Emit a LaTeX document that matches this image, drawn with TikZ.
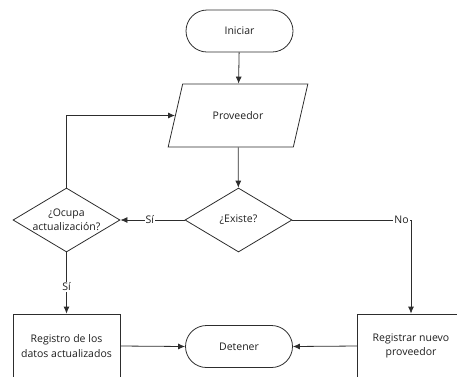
\documentclass[tikz,border=0pt]{standalone}
\usepackage{fontspec}
\setmainfont{Open Sans}
\usetikzlibrary{shapes.geometric, arrows.meta}
\definecolor{linegray}{RGB}{45,45,45}
\definecolor{textgray}{RGB}{30,30,30}
\tikzset{
    terminal/.style={
        draw=linegray, line width=0.8pt, rounded corners=21pt,
        minimum width=107pt, minimum height=42pt
    },
    io/.style={
        draw=linegray, line width=0.8pt, trapezium, trapezium left angle=63,
        trapezium right angle=117, trapezium stretches=true,
        minimum width=140pt, minimum height=63pt
    },
    decision/.style={
        draw=linegray, line width=0.8pt, diamond, inner sep=0pt, align=center,
        minimum width=107pt, minimum height=64pt
    },
    process/.style={
        draw=linegray, line width=0.8pt, align=center,
        minimum width=107pt, minimum height=64pt
    },
    every node/.style={font=\fontsize{10.5}{14.5}\selectfont, text=textgray},
    line/.style={draw=linegray, line width=0.8pt, -{Latex[length=7pt,width=6pt]}},
    tag/.style={fill=white, inner sep=1pt}
}
\begin{document}
\begin{tikzpicture}[x=1pt, y=-1pt]

    % Frame
    \useasboundingbox (0,0) rectangle (457,376);

    % Start
    \node[terminal] (iniciar) at (239.5,31) {Iniciar};

    % Input
    \node[io] (proveedor) at (238,115.5) {Proveedor};

    % Decisions
    \node[decision] (existe) at (238.5,220) {¿Existe?};
    \node[decision, label={[align=center]center:¿Ocupa\\actualización?}] (ocupa) at (66.5,220) {};

    % Processes
    \node[process] (registro) at (66.5,346) {Registro de los\\datos actualizados};
    \node[process] (registrar) at (411,346) {Registrar nuevo\\proveedor};

    % End
    \node[terminal] (detener) at (239,346.5) {Detener};

    % Connectors
    \draw[line] (iniciar) -- (proveedor);
    \draw[line] (proveedor) -- (existe);
    \draw[line] (existe.west) -- node[tag, pos=0.54] {Sí} (ocupa.east);
    \draw[line] (existe.east) -| node[tag, pos=0.46] {No} (registrar.north);
    \draw[line] (ocupa.north) |- (proveedor.west);
    \draw[line] (ocupa.south) -- node[tag, pos=0.56] {Sí} (registro.north);
    \draw[line] (registro.east) -- (detener.west);
    \draw[line] (registrar.west) -- (detener.east);

\end{tikzpicture}
\end{document}
